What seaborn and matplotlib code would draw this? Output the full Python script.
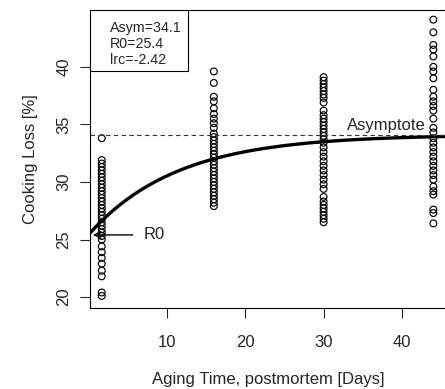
import numpy as np
import pandas as pd
import matplotlib
matplotlib.use("Agg")
import matplotlib.pyplot as plt
from matplotlib.patches import Rectangle
import seaborn as sns

# aging days (point columns) and cooking loss
days = [1.7, 16, 30, 44]
loss_day2 = [33.8, 31.9, 31.6, 31.3, 31.0, 30.7, 30.4, 30.1, 29.8, 29.5, 29.2,
             28.9, 28.6, 28.3, 28.0, 27.7, 27.4, 27.1, 26.8, 26.5, 26.2, 25.9,
             25.6, 25.3, 25.0, 24.4, 23.9, 23.4, 22.9, 22.3, 21.8, 20.4, 20.1]
loss_day16 = [39.6, 38.6, 37.4, 37.0, 36.4, 35.9, 35.5, 35.1, 34.7, 34.2, 33.9,
              33.6, 33.3, 33.0, 32.7, 32.4, 32.1, 31.8, 31.5, 31.2, 30.9, 30.6,
              30.3, 30.0, 29.7, 29.4, 29.1, 28.8, 28.5, 28.2, 27.9]
loss_day30 = [39.1, 38.8, 38.5, 38.2, 37.9, 37.6, 37.3, 36.9, 36.2, 35.8, 35.5,
              35.2, 34.9, 34.6, 34.3, 34.0, 33.7, 33.4, 33.0, 32.6, 32.2, 31.8,
              31.4, 31.0, 30.6, 30.2, 29.8, 29.4, 28.7, 28.3, 28.0, 27.7, 27.4,
              27.1, 26.8, 26.5]
loss_day44 = [44.1, 43.0, 41.9, 41.5, 40.9, 40.0, 39.6, 39.0, 38.0, 37.4, 37.0,
              36.6, 36.2, 35.5, 34.7, 34.3, 33.8, 33.4, 33.0, 32.6, 32.2, 31.8,
              31.4, 31.0, 30.6, 30.2, 29.6, 29.2, 28.9, 27.6, 27.3, 26.4]

# fitted SSasymp parameters shown in the box
asym, r0, lrc = 34.1, 25.4, -2.42

x_limits = (0.2, 45.7)
y_limits = (19.05, 44.9)


def main():
    sns.set_style("ticks")
    plt.rcParams['font.family'] = ['Liberation Sans', 'DejaVu Sans']

    groups = [loss_day2, loss_day16, loss_day30, loss_day44]
    pts = pd.DataFrame({
        "day": np.concatenate([[d] * len(g) for d, g in zip(days, groups)]),
        "loss": np.concatenate(groups),
    })
    xs = np.linspace(x_limits[0], x_limits[1], 200)
    fit = pd.DataFrame({"day": xs,
                        "loss": asym + (r0 - asym) * np.exp(-np.exp(lrc) * xs)})

    fig = plt.figure(figsize=(4.45, 3.89), dpi=100)
    ax = fig.add_axes([0.2022, 0.2082, 0.8016, 0.765])

    sns.scatterplot(data=pts, x="day", y="loss", ax=ax, s=24, marker="o",
                    facecolor="none", edgecolor="black", linewidth=0.85)
    sns.lineplot(data=fit, x="day", y="loss", ax=ax, color="black", lw=2.4)
    ax.axhline(asym, color="#333333", lw=0.8, dashes=(4, 3))

    ax.annotate("", xy=(x_limits[0], r0), xytext=(6.0, r0),
                arrowprops=dict(arrowstyle="->", lw=1.0, color="black",
                                mutation_scale=12))
    ax.text(7.0, r0, "R0", ha="left", va="center", fontsize=12)
    ax.text(43.0, asym + 0.15, "Asymptote", ha="right", va="bottom", fontsize=12)

    # parameter box in the top-left corner
    ax.add_patch(Rectangle((0, 0.7975), 0.2745, 0.2025, transform=ax.transAxes,
                           fc="white", ec="black", lw=0.8, zorder=5))
    box = "Asym=%.1f\nR0=%.1f\nlrc=%.2f" % (asym, r0, lrc)
    ax.text(0.056, 0.965, box, transform=ax.transAxes, ha="left", va="top",
            fontsize=10.3, linespacing=1.2, zorder=6)

    ax.set_xlim(*x_limits)
    ax.set_ylim(*y_limits)
    ax.set_xticks([10, 20, 30, 40])
    ax.set_yticks([20, 25, 30, 35, 40])
    ax.set_yticklabels(["20", "25", "30", "35", "40"], rotation=90, va="center")
    ax.tick_params(direction="out", length=7.5, width=0.8, labelsize=12)
    ax.tick_params(axis="x", pad=12)
    ax.tick_params(axis="y", pad=6)
    for s in ax.spines.values():
        s.set_linewidth(0.8)
        s.set_color("black")
    ax.set_xlabel("Aging Time, postmortem [Days]", fontsize=12, labelpad=16)
    ax.set_ylabel("Cooking Loss [%]", fontsize=12, labelpad=13)

    fig.savefig("out.png", dpi=100)


if __name__ == "__main__":
    main()
